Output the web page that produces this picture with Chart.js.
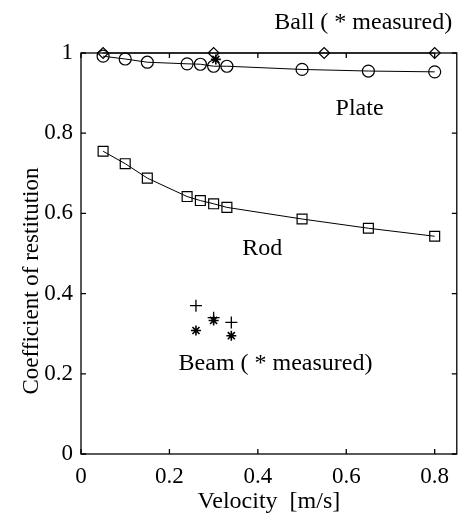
<!DOCTYPE html>
<html><head><meta charset="utf-8">
<script src="https://cdn.jsdelivr.net/npm/chart.js@4/dist/chart.umd.min.js"></script>
<style>html,body{margin:0;padding:0;background:#fff}canvas{display:block}</style>
</head><body>
<canvas id="c" width="465" height="522" style="width:465px;height:522px"></canvas>
<script>
// ---- data ----
const velocity = [0.05, 0.10, 0.15, 0.24, 0.27, 0.30, 0.33, 0.50, 0.65, 0.80];
const plate    = [0.992, 0.985, 0.977, 0.973, 0.972, 0.967, 0.967, 0.959, 0.955, 0.953];
const rod      = [0.755, 0.724, 0.688, 0.642, 0.632, 0.624, 0.615, 0.586, 0.563, 0.543];
const ballVelocity = [0.05, 0.30, 0.55, 0.80];
const ball         = [1.0, 1.0, 1.0, 1.0];
const ballMeasuredVelocity = [0.305];
const ballMeasured         = [0.984];
const beamVelocity  = [0.26, 0.30, 0.34];
const beamComputed  = [0.370, 0.340, 0.328];
const beamMeasured  = [0.308, 0.333, 0.295];
const xTicks = [0, 0.2, 0.4, 0.6, 0.8];
const yTicks = [0, 0.2, 0.4, 0.6, 0.8, 1];
const xTitle = 'Velocity  [m/s]';
const yTitle = 'Coefficient of restitution';
const labelBall  = 'Ball ( * measured)';
const labelPlate = 'Plate';
const labelRod   = 'Rod';
const labelBeam  = 'Beam ( * measured)';

const pts = (xs, ys) => xs.map((v, i) => ({x: v, y: ys[i]}));
const SERIF = '"Liberation Serif", "Times New Roman", serif';
Chart.defaults.font.family = SERIF;
Chart.defaults.color = '#000';

const frameTicks = {
  id: 'frameTicks',
  afterDatasetsDraw(chart) {
    const {ctx, chartArea: a, scales: {x, y}} = chart;
    ctx.save();
    ctx.strokeStyle = '#000';
    ctx.lineWidth = 1.3;
    ctx.strokeRect(a.left, a.top, a.right - a.left, a.bottom - a.top);
    ctx.beginPath();
    const L = 5;
    xTicks.forEach(v => {
      const px = x.getPixelForValue(v);
      ctx.moveTo(px, a.bottom); ctx.lineTo(px, a.bottom - L);
      ctx.moveTo(px, a.top); ctx.lineTo(px, a.top + L);
    });
    yTicks.forEach(v => {
      const py = y.getPixelForValue(v);
      ctx.moveTo(a.left, py); ctx.lineTo(a.left + L, py);
      ctx.moveTo(a.right, py); ctx.lineTo(a.right - L, py);
    });
    ctx.stroke();
    // annotations
    ctx.fillStyle = '#000';
    ctx.font = '24px ' + SERIF;
    ctx.textAlign = 'center';
    ctx.textBaseline = 'alphabetic';
    const put = (t, vx, vy) => ctx.fillText(t, x.getPixelForValue(vx), y.getPixelForValue(vy));
    put(labelBall, 0.6385, 1.06);
    put(labelPlate, 0.63, 0.846);
    put(labelRod, 0.41, 0.497);
    put(labelBeam, 0.44, 0.21);
    // y axis title
    ctx.save();
    ctx.font = '23px ' + SERIF;
    ctx.translate(38, 281);
    ctx.rotate(-Math.PI / 2);
    ctx.fillText(yTitle, 0, 0);
    ctx.restore();
    ctx.restore();
  }
};

const common = {borderColor: '#000', backgroundColor: 'rgba(0,0,0,0)', borderWidth: 1,
  pointBorderColor: '#000', pointBackgroundColor: 'rgba(0,0,0,0)', pointBorderWidth: 1.2, clip: false};

new Chart(document.getElementById('c'), {
  type: 'scatter',
  data: {
    datasets: [
      Object.assign({}, common, {label: 'Ball', data: pts(ballVelocity, ball), showLine: true, pointStyle: 'rectRot', pointRadius: 5.5}),
      Object.assign({}, common, {label: 'Ball measured', data: pts(ballMeasuredVelocity, ballMeasured), showLine: false, pointStyle: 'star', pointRadius: 5, pointBorderWidth: 1.6}),
      Object.assign({}, common, {label: 'Plate', data: pts(velocity, plate), showLine: true, pointStyle: 'circle', pointRadius: 6}),
      Object.assign({}, common, {label: 'Rod', data: pts(velocity, rod), showLine: true, pointStyle: 'rect', pointRadius: 7}),
      Object.assign({}, common, {label: 'Beam', data: pts(beamVelocity, beamComputed), showLine: false, pointStyle: 'cross', pointRadius: 6, pointBorderWidth: 1.3}),
      Object.assign({}, common, {label: 'Beam measured', data: pts(beamVelocity, beamMeasured), showLine: false, pointStyle: 'star', pointRadius: 5, pointBorderWidth: 1.6})
    ]
  },
  options: {
    responsive: false,
    animation: false,
    devicePixelRatio: 1,
    layout: {padding: {top: 53, right: 7, left: 0, bottom: 0}},
    plugins: {legend: {display: false}, tooltip: {enabled: false}},
    scales: {
      x: {
        type: 'linear', min: 0, max: 0.85,
        afterBuildTicks: s => { s.ticks = xTicks.map(v => ({value: v})); },
        afterFit: s => { s.height = 68; },
        grid: {display: false, drawTicks: false},
        border: {display: false},
        ticks: {font: {size: 23, family: SERIF}, color: '#000', padding: 9, maxRotation: 0,
          callback: v => String(v)},
        title: {display: true, text: xTitle, font: {size: 24, family: SERIF}, color: '#000', padding: {top: 4, bottom: 6}}
      },
      y: {
        type: 'linear', min: 0, max: 1,
        afterBuildTicks: s => { s.ticks = yTicks.map(v => ({value: v})); },
        afterFit: s => { s.width = 81; },
        grid: {display: false, drawTicks: false},
        border: {display: false},
        ticks: {font: {size: 23, family: SERIF}, color: '#000', padding: 8,
          callback: v => String(v)}
      }
    }
  },
  plugins: [frameTicks]
});
</script>
</body></html>
